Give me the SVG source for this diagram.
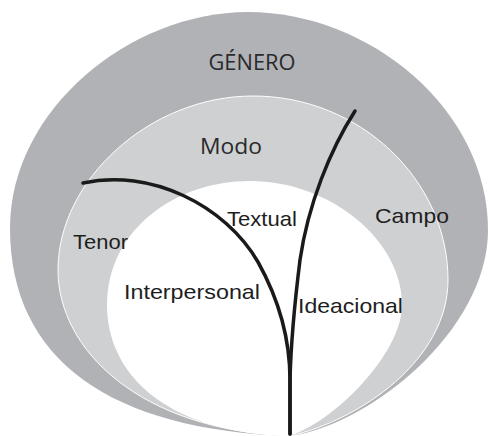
<svg xmlns="http://www.w3.org/2000/svg" width="490" height="436" viewBox="0 0 490 436">
<style>
.a{font-family:"Liberation Sans",Arial,sans-serif;font-size:21px;fill:#1e1e1e}
.b{font-family:"Open Sans","Noto Sans",sans-serif;font-size:21px;fill:#2a2a2a}
.c{fill:none;stroke:#1a1a1a;stroke-width:3.5;stroke-linecap:round;stroke-linejoin:round}
</style>
<rect width="490" height="436" fill="#ffffff"/>
<g id="genero">
<path d="M290,436 C110,430 10,360 10,228 C10,110 130,12 248,12 C370,12 488,110 488,230 C488,330 370,425 290,436 Z" fill="#b1b2b6"/>
</g>
<g id="contexto">
<path d="M290,436 C140,430 58,350 58,270 C58,180 150,96 253,96 C360,96 448,180 448,280 C448,360 360,420 290,436 Z" fill="#cfd0d2" stroke="#ffffff" stroke-width="1"/>
</g>
<g id="metafunciones">
<path d="M288,436 C160,432 107,370 107,305 C107,230 175,181 250,181 C330,181 402,240 402,305 C402,355 330,425 288,436 Z" fill="#ffffff"/>
</g>
<g id="labels">
<text class="b" x="252" y="70" text-anchor="middle" textLength="87" lengthAdjust="spacingAndGlyphs">GÉNERO</text>
<text class="b" x="231" y="154" text-anchor="middle" textLength="62" lengthAdjust="spacingAndGlyphs">Modo</text>
<text class="a" x="73" y="249" textLength="55" lengthAdjust="spacingAndGlyphs">Tenor</text>
<text class="a" x="375" y="223" textLength="74" lengthAdjust="spacingAndGlyphs">Campo</text>
<text class="a" x="227" y="226" textLength="70" lengthAdjust="spacingAndGlyphs">Textual</text>
<text class="a" x="124" y="299" textLength="136" lengthAdjust="spacingAndGlyphs">Interpersonal</text>
<text class="a" x="298" y="313" textLength="105" lengthAdjust="spacingAndGlyphs">Ideacional</text>
</g>
<g id="connectors">
<path class="c" d="M83,183 C150,168 225,205 258,262 C282,305 290,345 290,380 L290,434"/>
<path class="c" d="M355,111 C330,150 308,205 300,260 C295,300 291,340 290,380 L290,434"/>
</g>
</svg>
